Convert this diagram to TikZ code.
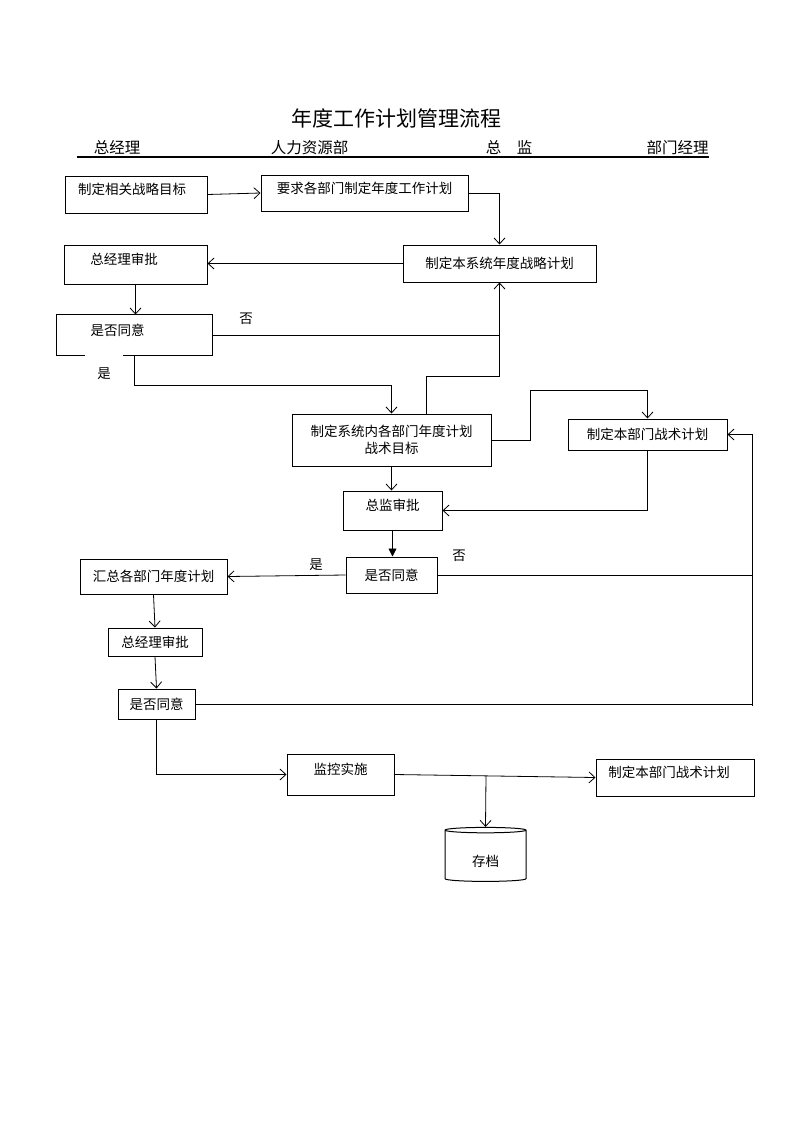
\documentclass[tikz,border=0pt]{standalone}
\usepackage{fontspec}
\setmainfont{Noto Sans CJK SC}
\usetikzlibrary{arrows.meta,shapes.geometric,calc}

\tikzset{
    box/.style={draw, rectangle, line width=1pt, inner sep=0pt, font=\fontsize{13.5}{17}\selectfont},
    up/.style={text height=10pt, text depth=10pt}, % text sits high in the box
    link/.style={-{Straight Barb[length=6pt,width=11pt]}, line width=0.8pt},
    tag/.style={font=\fontsize{13.5}{17}\selectfont},
    head/.style={font=\fontsize{15.5}{18}\selectfont},
}

\begin{document}
\begin{tikzpicture}[x=1pt, y=-1pt]
    \useasboundingbox (0,0) rectangle (793,1122);

    % title and lanes
    \node[font=\fontsize{21}{24}\selectfont] (title) at (396,118) {年度工作计划管理流程};
    \node[head] (lane1) at (117,148) {总经理};
    \node[head] (lane2) at (309.5,148) {人力资源部};
    \node[head] (lane3) at (509,148) {总\hspace{1em}监};
    \node[head] (lane4) at (677.5,148) {部门经理};
    \draw[line width=1.2pt] (77,157) -- (709,157); % lane line

    % boxes
    \node[box, up, minimum width=142, minimum height=37] (aim) at (136,194.5) {\hspace*{-8pt}制定相关战略目标};
    \node[box, up, minimum width=207, minimum height=36] (ask) at (364.5,193) {要求各部门制定年度工作计划};
    \node[box, minimum width=193, minimum height=37] (sysplan) at (499.5,263.5) {制定本系统年度战略计划};
    \node[box, up, minimum width=143, minimum height=39] (gmok1) at (135.5,264.5) {\hspace*{-23pt}总经理审批};
    \node[box, up, draw=none, minimum width=155, minimum height=40] (agree1) at (134.5,335) {\hspace*{-34pt}是否同意};
    \node[box, minimum width=199, minimum height=52, align=center] (deptgoal) at (391.5,440) {制定系统内各部门年度计划\\战术目标};
    \node[box, minimum width=159, minimum height=31] (tactic1) at (647.5,434.5) {制定本部门战术计划};
    \node[box, up, minimum width=99, minimum height=39] (dirok) at (392.5,510.5) {总监审批};
    \node[box, minimum width=91, minimum height=36] (agree2) at (391.5,575) {是否同意};
    \node[box, minimum width=147, minimum height=35] (sum) at (153.5,576.5) {汇总各部门年度计划};
    \node[box, minimum width=94, minimum height=28] (gmok2) at (155,642) {总经理审批};
    \node[box, minimum width=77, minimum height=30] (agree3) at (156.5,704) {是否同意};
    \node[box, up, minimum width=107, minimum height=41] (watch) at (340.5,774.5) {监控实施};
    \node[box, up, minimum width=158, minimum height=37] (tactic2) at (675,777.5) {\hspace*{-12pt}制定本部门战术计划};
    \node[box, cylinder, shape border rotate=90, aspect=0.2, minimum width=81, minimum height=54,
        text height=20pt, text depth=0pt] (store) at (485.5,856) {存档};

    % the first 是否同意 box has a gap in its lower edge
    \draw[line width=1pt] ($(agree1.south west)+(28,0)$) -- (agree1.south west) -- (agree1.north west)
        -- (agree1.north east) -- (agree1.south east) -- ($(agree1.south east)+(-90,0)$);

    % connectors
    \draw[link] (aim.east) -- (ask.west);
    \draw[link] (ask.east) -| (sysplan.north);
    \draw[link] (sysplan.west) -- (sysplan.west -| gmok1.east);
    \draw[link] (gmok1.south) -- (gmok1.south |- agree1.north);
    \draw[link] (agree1.east) -| (sysplan.south);
    \draw[link] (agree1.south) -- ++(0,30) -| (deptgoal.north);
    \draw[line width=0.8pt] ([xshift=35]deptgoal.north) -- ++(0,-37) -| (sysplan.south |- agree1.east);
    \draw[link] (deptgoal.east) -- ++(39,0) -- ++(0,-50) -| (tactic1.north);
    \draw[link] (tactic1.south) |- (dirok.east);
    \draw[link] (deptgoal.south) -- (deptgoal.south |- dirok.north);
    \draw[-{Triangle[length=8pt,width=8pt]}, line width=0.8pt] (dirok.south) -- (dirok.south |- agree2.north);
    \draw[link] (agree2.west) -- (sum.east);
    \coordinate (back) at (752,706);
    \draw[line width=0.8pt] (agree2.east) -- (agree2.east -| back);
    \draw[line width=0.8pt] (agree3.east) -- (agree3.east -| back);
    \draw[link] (back) |- (tactic1.east);
    \draw[link] (sum.south) -- (gmok2.north);
    \draw[link] (gmok2.south) -- (agree3.north);
    \draw[link] (agree3.south) |- (watch.west);
    \draw[link] (watch.east) -- (tactic2.west);
    \coordinate (split) at (486,776);
    \draw[link] (split) -- (store.north);

    % yes / no marks
    \node[tag] (no1) at (246,319) {否};
    \node[tag] (yes1) at (104,374) {是};
    \node[tag] (no2) at (459,556) {否};
    \node[tag] (yes2) at (316,565) {是};

\end{tikzpicture}
\end{document}
